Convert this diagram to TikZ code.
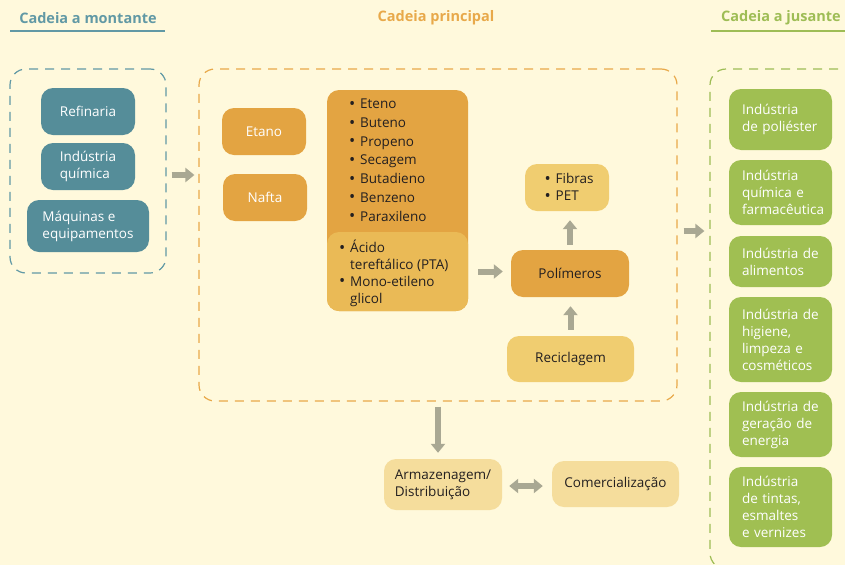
\documentclass[tikz,border=0pt]{standalone}
\usepackage{fontspec}
\setmainfont{Open Sans}
\usetikzlibrary{arrows.meta,calc}
\definecolor{bg}{HTML}{FFF9DC}
\definecolor{tealbox}{HTML}{558D99}
\definecolor{tealline}{HTML}{6199A5}
\definecolor{orbox}{HTML}{E3A442}
\definecolor{orlow}{HTML}{EABA56}
\definecolor{yelbox}{HTML}{F0CD70}
\definecolor{palebox}{HTML}{F5DD9C}
\definecolor{grbox}{HTML}{A0BF52}
\definecolor{grline}{HTML}{9EBD55}
\definecolor{orline}{HTML}{E8A94A}
\definecolor{arrgray}{HTML}{A9A893}
\definecolor{ink}{HTML}{231F20}
% bullet in a fixed-width slot, slightly larger than the text bullet
\newcommand\blt[1]{\makebox[#1][l]{\raisebox{-0.6pt}{\fontsize{16.5}{16.5}\selectfont\textbullet}}}
\newcommand\gap[1]{\makebox[#1]{}}
\tikzset{
  box/.style={rounded corners=12pt, inner sep=0pt, align=left,
    font=\fontsize{13.5}{17}\selectfont},
  frame/.style={draw, rounded corners=16pt, dashed, dash pattern=on 9pt off 7pt,
    line width=1.2pt, inner sep=0pt},
  title/.style={font=\fontsize{14.5}{17}\selectfont\bfseries},
  arr/.style={draw=arrgray, line width=6pt, -{Triangle[width=14pt,length=9pt]}},
  darr/.style={draw=arrgray, line width=6pt,
    {Triangle[width=14pt,length=9pt]}-{Triangle[width=14pt,length=9pt]}},
  listtxt/.style={inner sep=0pt, anchor=north west, align=left, text=ink},
}
\begin{document}
\begin{tikzpicture}[x=1pt,y=-1pt]
\fill[bg] (0,0) rectangle (845,565);
\useasboundingbox (0,0) rectangle (845,565);
\clip (0,0) rectangle (845,565);

% column titles
\node[title, text=tealline] (t1) at (88,18) {Cadeia a montante};
\node[title, text=orline] (t2) at (436,18) {Cadeia principal};
\node[title, text=grline] (t3) at (781,18) {Cadeia a jusante};
\draw[tealline, line width=1.5pt] (10,31) -- (165,31);
\draw[grline, line width=1.5pt] (711,31) -- (845,31);

% dashed frames
\node[frame, draw=tealline, minimum width=156pt, minimum height=204pt] (upframe) at (88,171) {};
\node[frame, draw=orline, minimum width=478pt, minimum height=332pt] (mainframe) at (438,235) {};
\node[frame, draw=grline, minimum width=160pt, minimum height=500pt] (downframe) at (790,319) {};

% upstream
\node[box, fill=tealbox, text=white, minimum width=94pt, minimum height=47pt] (ref) at (88,111.5) {Refinaria};
\node[box, fill=tealbox, text=white, minimum width=94pt, minimum height=47pt] (chem) at (88,166.5) {Indústria\\química};
\node[box, fill=tealbox, text=white, minimum width=122pt, minimum height=52pt] (mach) at (88,226) {Máquinas e\\equipamentos};

% main chain
\node[box, fill=orbox, text=white, minimum width=84pt, minimum height=47pt] (etano) at (264,131.5) {Etano};
\node[box, fill=orbox, text=white, minimum width=84pt, minimum height=47pt] (nafta) at (265,197.5) {Nafta};
\node[box, fill=orbox, minimum width=141pt, minimum height=221pt] (listtop) at (397.5,200.5) {};
\node[box, fill=orlow, minimum width=141pt, minimum height=79pt] (listlow) at (397.5,271.5) {};
\node[listtxt, font=\fontsize{13.5}{18.7}\selectfont] (ltxt) at (349,99)
  {\blt{11pt}Eteno\\
   \blt{11pt}Buteno\\
   \blt{11pt}Propeno\\
   \blt{11pt}Secagem\\
   \blt{11pt}Butadieno\\
   \blt{11pt}Benzeno\\
   \blt{11pt}Paraxileno};
\node[listtxt, font=\fontsize{13.5}{16.8}\selectfont] (lowtxt) at (339,240)
  {\blt{11pt}Ácido\\
   \gap{11pt}tereftálico (PTA)\\
   \blt{11pt}Mono-etileno\\
   \gap{11pt}glicol};
\node[box, fill=yelbox, minimum width=84pt, minimum height=47pt] (fib) at (567,187.5) {};
\node[listtxt, font=\fontsize{13.5}{17}\selectfont] (fibtxt) at (544.5,173)
  {\blt{11pt}Fibras\\
   \blt{11pt}PET};
\node[box, fill=orbox, text=ink, minimum width=118pt, minimum height=47pt] (poly) at (570,273.5) {Polímeros};
\node[box, fill=yelbox, text=ink, minimum width=127pt, minimum height=46pt] (recic) at (570.5,359) {Reciclagem};
\node[box, fill=palebox, text=ink, minimum width=118pt, minimum height=51pt] (arm) at (443,484.5) {Armazenagem/\\Distribuição};
\node[box, fill=palebox, text=ink, minimum width=127pt, minimum height=46pt] (com) at (615.5,484) {Comercialização};

% downstream
\tikzset{gbox/.style={box, fill=grbox, text=white, minimum width=103pt, text width=77pt}}
\node[gbox, minimum height=61pt] (g1) at (780.5,119.5) {Indústria\\de poliéster};
\node[gbox, minimum height=65pt] (g2) at (780.5,192.5) {Indústria\\química e\\farmacêutica};
\node[gbox, minimum height=51pt] (g3) at (780.5,261.5) {Indústria de\\alimentos};
\node[gbox, minimum height=85pt] (g4) at (780.5,339.5) {Indústria de\\higiene,\\limpeza e\\cosméticos};
\node[gbox, minimum height=65pt] (g5) at (780.5,424.5) {Indústria de\\geração de\\energia};
\node[gbox, minimum height=80pt] (g6) at (780.5,507) {Indústria\\de tintas,\\esmaltes\\e vernizes};

% flow arrows
\draw[arr] ([shift={(5,4)}]upframe.east) -- ([shift={(-4,4)}]upframe.east -| mainframe.west);
\draw[arr] ([xshift=10pt]listlow.east) -- ([xshift=-8pt]listlow.east -| poly.west);
\draw[arr] ([yshift=5pt]poly.north) -- ([yshift=-9pt]poly.north |- fib.south);
\draw[arr] ([yshift=6pt]recic.north) -- ([yshift=-9pt]recic.north |- poly.south);
\draw[arr] ([shift={(6,-4)}]mainframe.east) -- ([shift={(-5,-4)}]mainframe.east -| downframe.west);
\draw[arr] ([shift={(-5,5)}]arm.north |- mainframe.south) -- ([shift={(-5,-6)}]arm.north);
\draw[darr] ([shift={(7,1.5)}]arm.east) -- ([shift={(-9,1.5)}]arm.east -| com.west);
\end{tikzpicture}
\end{document}
